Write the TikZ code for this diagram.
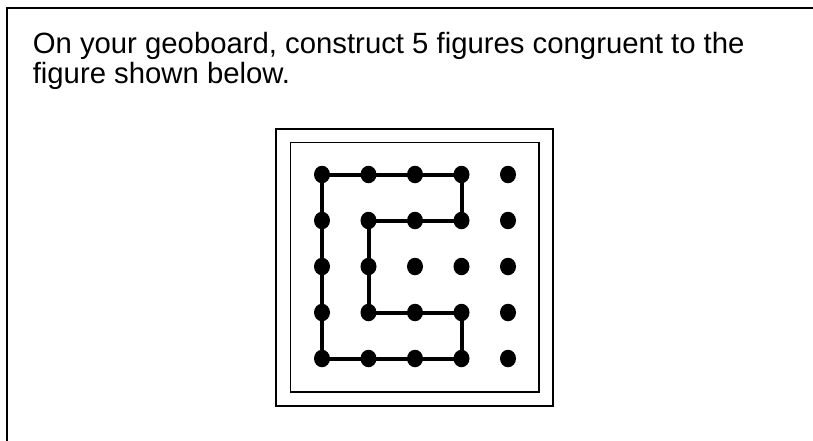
\documentclass[tikz,border=0pt]{standalone}
\usepackage{fontspec}
\setmainfont{Liberation Sans}
\usetikzlibrary{shapes.geometric}

\begin{document}
\begin{tikzpicture}[
      x=1pt, y=-1pt,
      every node/.style={font=\fontsize{29.3}{30}\selectfont},
      vtx/.style={ellipse, fill=black, inner sep=0pt, minimum width=16pt, minimum height=17.5pt},
      edge/.style={line width=4pt},
      sheet/.style={line width=2.5pt},
      board/.style={line width=2.5pt},
      inset/.style={line width=1.7pt}
    ]
    \useasboundingbox (0,0) rectangle (813,441);

    % page frame, cut off at the right and at the bottom
    \draw[sheet] (7,441) -- (7,8) -- (813,8);
    % base anchor sits on the second line
    \node[anchor=base west, align=left, inner sep=0pt] (task) at (32.6,83.3)
      {On your geoboard, construct 5 figures congruent to the\\figure shown below.};

    \draw[board] (276,129) rectangle (553,406);
    \draw[inset] (290.5,142.5) rectangle (539,392);

    \foreach \i in {0,...,4}{
      \foreach \j in {0,...,4}{
        \node[vtx] (d\i\j) at ({322+46.5*\i},{174.5+46*\j}) {};
      }
    }

    \draw[edge]
      (d00.center) -- (d30.center) -- (d31.center) -- (d11.center) -- (d13.center)
      -- (d33.center) -- (d34.center) -- (d04.center) -- cycle;
\end{tikzpicture}
\end{document}
